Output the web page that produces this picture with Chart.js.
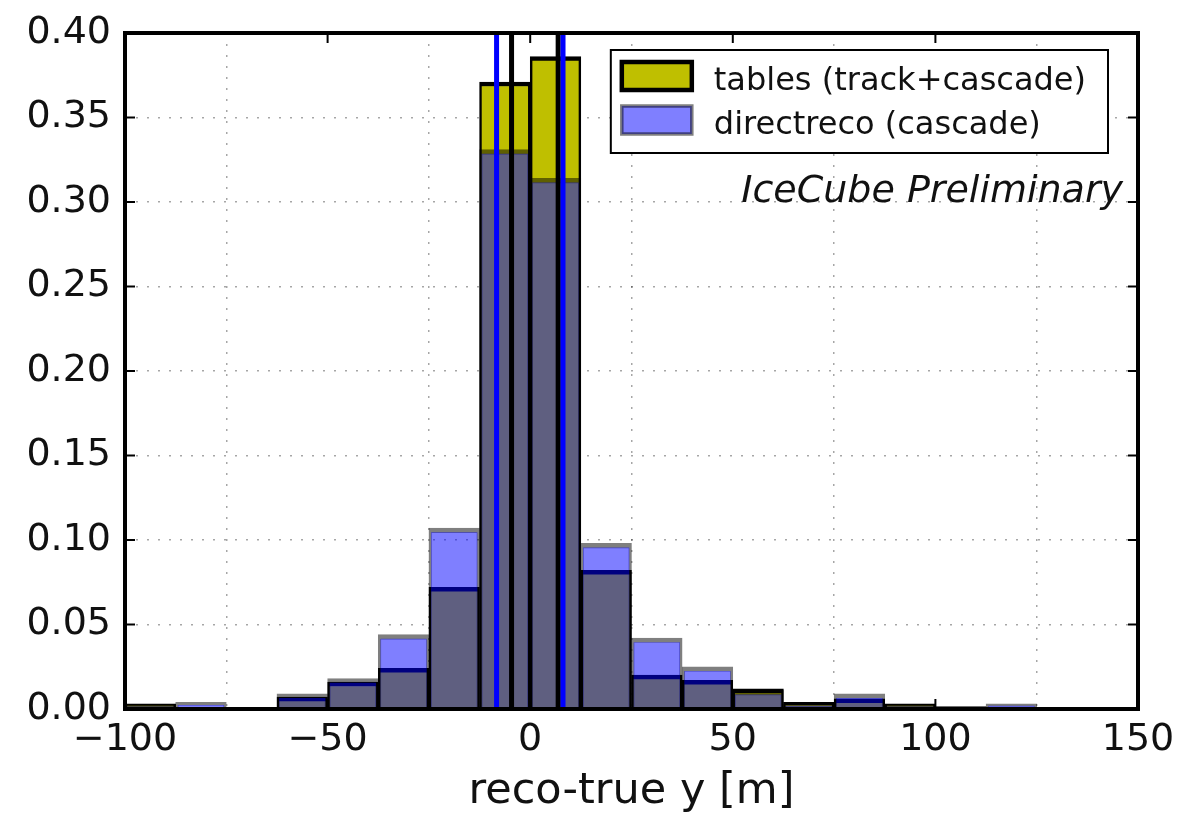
<!DOCTYPE html>
<html><head><meta charset="utf-8">
<script src="https://cdn.jsdelivr.net/npm/chart.js@4.4.1/dist/chart.umd.min.js"></script>
<style>html,body{margin:0;padding:0;background:#fff;}#wrap{width:1179px;height:820px;}</style>
</head><body><div id="wrap"><canvas id="c" width="1179" height="820"></canvas></div>
<script>
// ---- data ----
const binCenters = [-93.75,-81.25,-68.75,-56.25,-43.75,-31.25,-18.75,-6.25,6.25,18.75,31.25,43.75,56.25,68.75,81.25,93.75,106.25,118.75,131.25,143.75];
const tablesValues = [0.003,0.001,0.001,0.007,0.016,0.024,0.072,0.371,0.386,0.082,0.020,0.017,0.012,0.004,0.006,0.003,0.0015,0.001,0.0,0.0];
const directrecoValues = [0.002,0.004,0.0005,0.009,0.018,0.044,0.107,0.331,0.314,0.098,0.042,0.025,0.011,0.003,0.009,0.002,0.001,0.003,0.0,0.0];
const tablesMarkers = [-4.6, 6.9];
const directrecoMarkers = [-8.3, 8.1];
const seriesLabels = ['tables (track+cascade)', 'directreco (cascade)'];
const xTickValues = [-100,-50,0,50,100,150];
const yTickValues = [0,0.05,0.10,0.15,0.20,0.25,0.30,0.35,0.40];
const xTitle = 'reco-true y [m]';
const annotationText = 'IceCube Preliminary';

const FONT = 'DejaVu Sans';
const TXT = '#111';
const EDGE = {top:4.5, left:2.5, right:2.5, bottom:0};

function markerDataset(v, color, order){
  return {type:'line', data:[{x:v,y:0},{x:v,y:0.4}], borderColor:color, borderWidth:5,
    pointRadius:0, fill:false, order:order};
}

const datasets = [
  {type:'bar', label:seriesLabels[0], data:binCenters.map((x,i)=>({x:x,y:tablesValues[i]})),
   backgroundColor:'#bfbf00', borderColor:'#000', borderWidth:EDGE, borderSkipped:false,
   grouped:false, barPercentage:1, categoryPercentage:1, order:10},
  {type:'bar', label:seriesLabels[1], data:binCenters.map((x,i)=>({x:x,y:directrecoValues[i]})),
   backgroundColor:'rgba(0,0,255,0.5)', borderColor:'rgba(0,0,0,0.5)', borderWidth:EDGE, borderSkipped:false,
   grouped:false, barPercentage:1, categoryPercentage:1, order:9},
];
tablesMarkers.forEach(v=>datasets.push(markerDataset(v,'#000',2)));
directrecoMarkers.forEach(v=>datasets.push(markerDataset(v,'#0000ff',1)));

const decor = {
  id:'decor',
  afterDraw(chart){
    const ctx = chart.ctx, a = chart.chartArea, xs = chart.scales.x, ys = chart.scales.y;
    ctx.save();
    ctx.strokeStyle = '#000'; ctx.lineWidth = 2;
    const seg=(x1,y1,x2,y2)=>{ctx.beginPath();ctx.moveTo(x1,y1);ctx.lineTo(x2,y2);ctx.stroke();};
    xs.ticks.forEach(t=>{const p=xs.getPixelForValue(t.value); seg(p,a.bottom,p,a.bottom-10); seg(p,a.top,p,a.top+10);});
    ys.ticks.forEach(t=>{const p=ys.getPixelForValue(t.value); seg(a.left,p,a.left+10,p); seg(a.right,p,a.right-10,p);});
    ctx.lineWidth = 4;
    ctx.strokeRect(a.left, a.top, a.right-a.left, a.bottom-a.top);

    // legend
    ctx.font = '32px "'+FONT+'"';
    const bars = chart.data.datasets.filter(d=>d.type==='bar');
    const tw = Math.max(...bars.map(d=>ctx.measureText(d.label).width));
    const bw = 103 + tw + 22, bh = 103;
    const bx = a.right - 30 - bw, by = a.top + 17;
    ctx.fillStyle = '#fff'; ctx.fillRect(bx,by,bw,bh);
    ctx.lineWidth = 2; ctx.strokeStyle = '#000'; ctx.strokeRect(bx,by,bw,bh);
    bars.forEach((d,i)=>{
      const base = by + 40 + i*44;
      const sx = bx + 11, sy = base - 28;
      ctx.fillStyle = '#fff'; ctx.fillRect(sx,sy,70,28);
      ctx.fillStyle = d.backgroundColor; ctx.fillRect(sx,sy,70,28);
      ctx.strokeStyle = d.borderColor; ctx.lineWidth = i===0?4.5:3.5; ctx.strokeRect(sx,sy,70,28);
      ctx.fillStyle = TXT; ctx.textBaseline = 'alphabetic'; ctx.textAlign = 'left';
      ctx.fillText(d.label, bx + 103, base);
    });

    // annotation
    ctx.font = 'italic 38px "'+FONT+'"';
    ctx.fillStyle = TXT; ctx.textAlign = 'right'; ctx.textBaseline = 'alphabetic';
    ctx.fillText(annotationText, a.right - 15, a.top + 169);
    ctx.restore();
  }
};

new Chart(document.getElementById('c'), {
  type:'bar',
  data:{datasets:datasets},
  options:{
    responsive:false, animation:false, devicePixelRatio:1,
    layout:{padding:{top:33,right:41,left:0,bottom:0}},
    plugins:{legend:{display:false}, tooltip:{enabled:false}},
    scales:{
      x:{type:'linear', min:-100, max:150, offset:false, z:1,
        afterBuildTicks:s=>{s.ticks = xTickValues.map(v=>({value:v}));},
        ticks:{font:{family:FONT,size:38}, color:TXT, padding:8, maxRotation:0, autoSkip:false,
          callback:v=> v<0 ? '\u2212'+Math.abs(v) : String(v)},
        grid:{color:'rgba(0,0,0,0.35)', lineWidth:1.5, drawTicks:false},
        border:{display:false, dash:[2,9]},
        title:{display:true, text:xTitle, font:{family:FONT,size:43}, color:TXT, padding:{top:0,bottom:2}},
        afterFit:s=>{s.height = 111; s.paddingLeft = 0; s.paddingRight = 0;}
      },
      y:{type:'linear', min:0, max:0.4, z:1,
        afterBuildTicks:s=>{s.ticks = yTickValues.map(v=>({value:v}));},
        ticks:{font:{family:FONT,size:38}, color:TXT, padding:14, autoSkip:false,
          callback:v=> Number(v).toFixed(2)},
        grid:{color:'rgba(0,0,0,0.35)', lineWidth:1.5, drawTicks:false},
        border:{display:false, dash:[2,9]},
        afterFit:s=>{s.width = 125; s.paddingTop = 0; s.paddingBottom = 0;}
      }
    }
  },
  plugins:[decor]
});
</script></body></html>
